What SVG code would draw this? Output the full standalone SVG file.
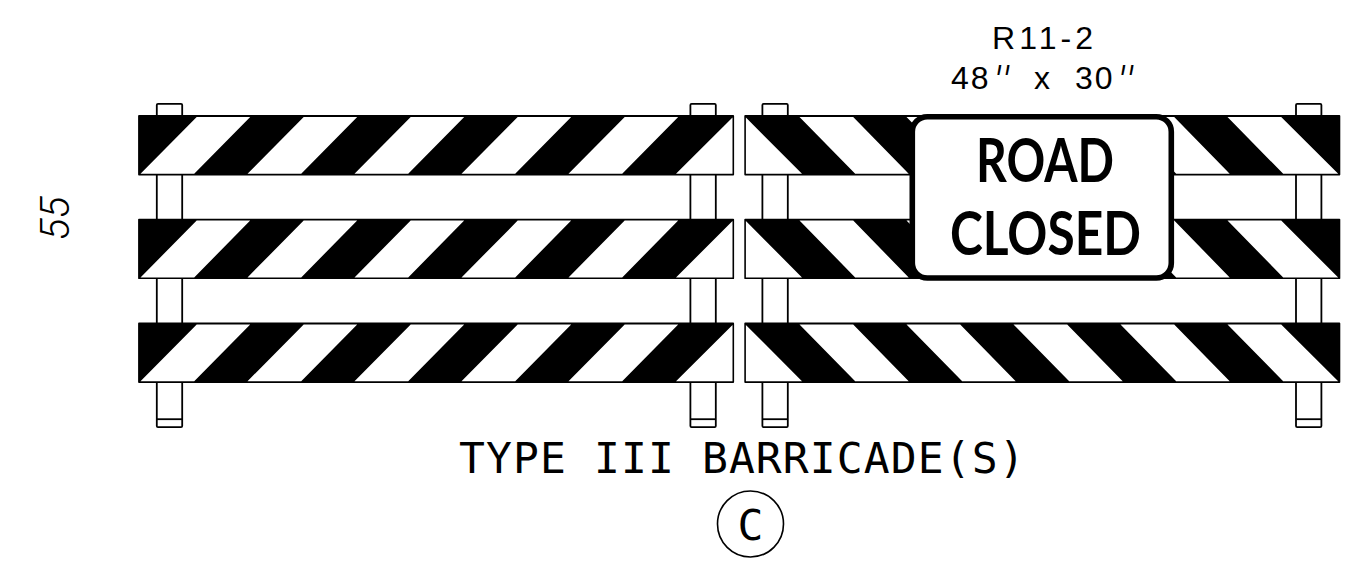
<svg xmlns="http://www.w3.org/2000/svg" width="1372" height="573" viewBox="0 0 1372 573">
<style>
.post{fill:#fff;stroke:#000;stroke-width:1.8}
.bar{fill:#000;stroke:#000;stroke-width:1.8;stroke-linejoin:round}
.w{fill:#fff}
.mono{font-family:"DejaVu Sans Mono",monospace;fill:#000}
.sans{font-family:"Liberation Sans",Arial,sans-serif;fill:#000}
.prime{font-family:Roboto,"Liberation Sans",sans-serif;font-weight:300;font-style:italic;font-size:46px;letter-spacing:3px;fill:#000}
.sg{font-family:Lato,"Liberation Sans",sans-serif;font-weight:700;fill:#000}
</style>
<defs>
<g id="post"><rect class="post" x="0" y="0" width="25.4" height="323.4" rx="1.2"/><line x1="0" y1="315.4" x2="25.4" y2="315.4" stroke="#000" stroke-width="1.8"/></g>
<g id="barL">
<rect class="bar" x="139" y="0" width="594.2" height="58.6"/>
<path class="w" d="M140.500 57.800L194.200 57.800L250.200 1L196.700 1ZM247.500 57.800L301.200 57.800L357.200 1L303.700 1ZM354.500 57.800L408.200 57.800L464.200 1L410.700 1ZM461.500 57.800L515.200 57.800L571.200 1L517.700 1ZM568.500 57.800L622.200 57.800L678.200 1L624.700 1ZM676 57.800L732.500 57.800L732.500 1.500Z"/>
</g>
<g id="barR">
<rect class="bar" x="745.200" y="0" width="594.200" height="58.600"/>
<path class="w" d="M745.900 1.500L745.900 57.800L802 57.800ZM799.500 1L853.200 1L908.700 57.800L855.200 57.800ZM906.500 1L960.200 1L1015.700 57.800L962.200 57.800ZM1013.500 1L1067.200 1L1122.700 57.800L1069.200 57.800ZM1120.500 1L1174.200 1L1229.700 57.800L1176.200 57.800ZM1227.500 1L1281.200 1L1338.200 57.800L1283.200 57.800Z"/>
</g>
</defs>
<g id="posts">
<use href="#post" x="156.800" y="103.800"/>
<use href="#post" x="690.400" y="103.800"/>
<use href="#post" x="762.400" y="103.800"/>
<use href="#post" x="1296" y="103.800"/>
</g>
<g id="left-barricade">
<use href="#barL" y="116"/>
<use href="#barL" y="219.600"/>
<use href="#barL" y="323.400"/>
</g>
<g id="right-barricade">
<use href="#barR" y="116"/>
<use href="#barR" y="219.600"/>
<use href="#barR" y="323.400"/>
</g>
<g id="sign">
<rect x="912.300" y="116.700" width="259" height="161.300" rx="15" fill="#fff" stroke="#000" stroke-width="5.600"/>
<text class="sg" x="976" y="181.700" font-size="61" textLength="138" lengthAdjust="spacingAndGlyphs">ROAD</text>
<text class="sg" x="950" y="255" font-size="61" textLength="191" lengthAdjust="spacingAndGlyphs">CLOSED</text>
</g>
<g id="sign-label">
<text class="sans" x="992" y="49.300" font-size="32" textLength="101">R11-2</text>
<text class="sans" x="951" y="89.300" font-size="32" letter-spacing="2">48</text>
<text class="sans" x="1034" y="89.300" font-size="32">x</text>
<text class="sans" x="1075" y="89.300" font-size="32" letter-spacing="2">30</text>
<text class="prime" x="993" y="99.500">''</text>
<text class="prime" x="1117" y="99.500">''</text>
</g>
<g id="title">
<text class="mono" x="459" y="473" font-size="43" letter-spacing="1.100">TYPE III BARRICADE(S)</text>
</g>
<g id="callout">
<circle cx="750.500" cy="524" r="33" fill="none" stroke="#000" stroke-width="1.6"/>
<text class="mono" x="750.500" y="539.500" font-size="43" text-anchor="middle">C</text>
</g>
<g id="side-number">
<text transform="translate(69 240.500) rotate(-90)" font-family="Roboto,'Liberation Sans',sans-serif" font-weight="300" font-style="italic" font-size="41" fill="#000">55</text>
</g>
</svg>
